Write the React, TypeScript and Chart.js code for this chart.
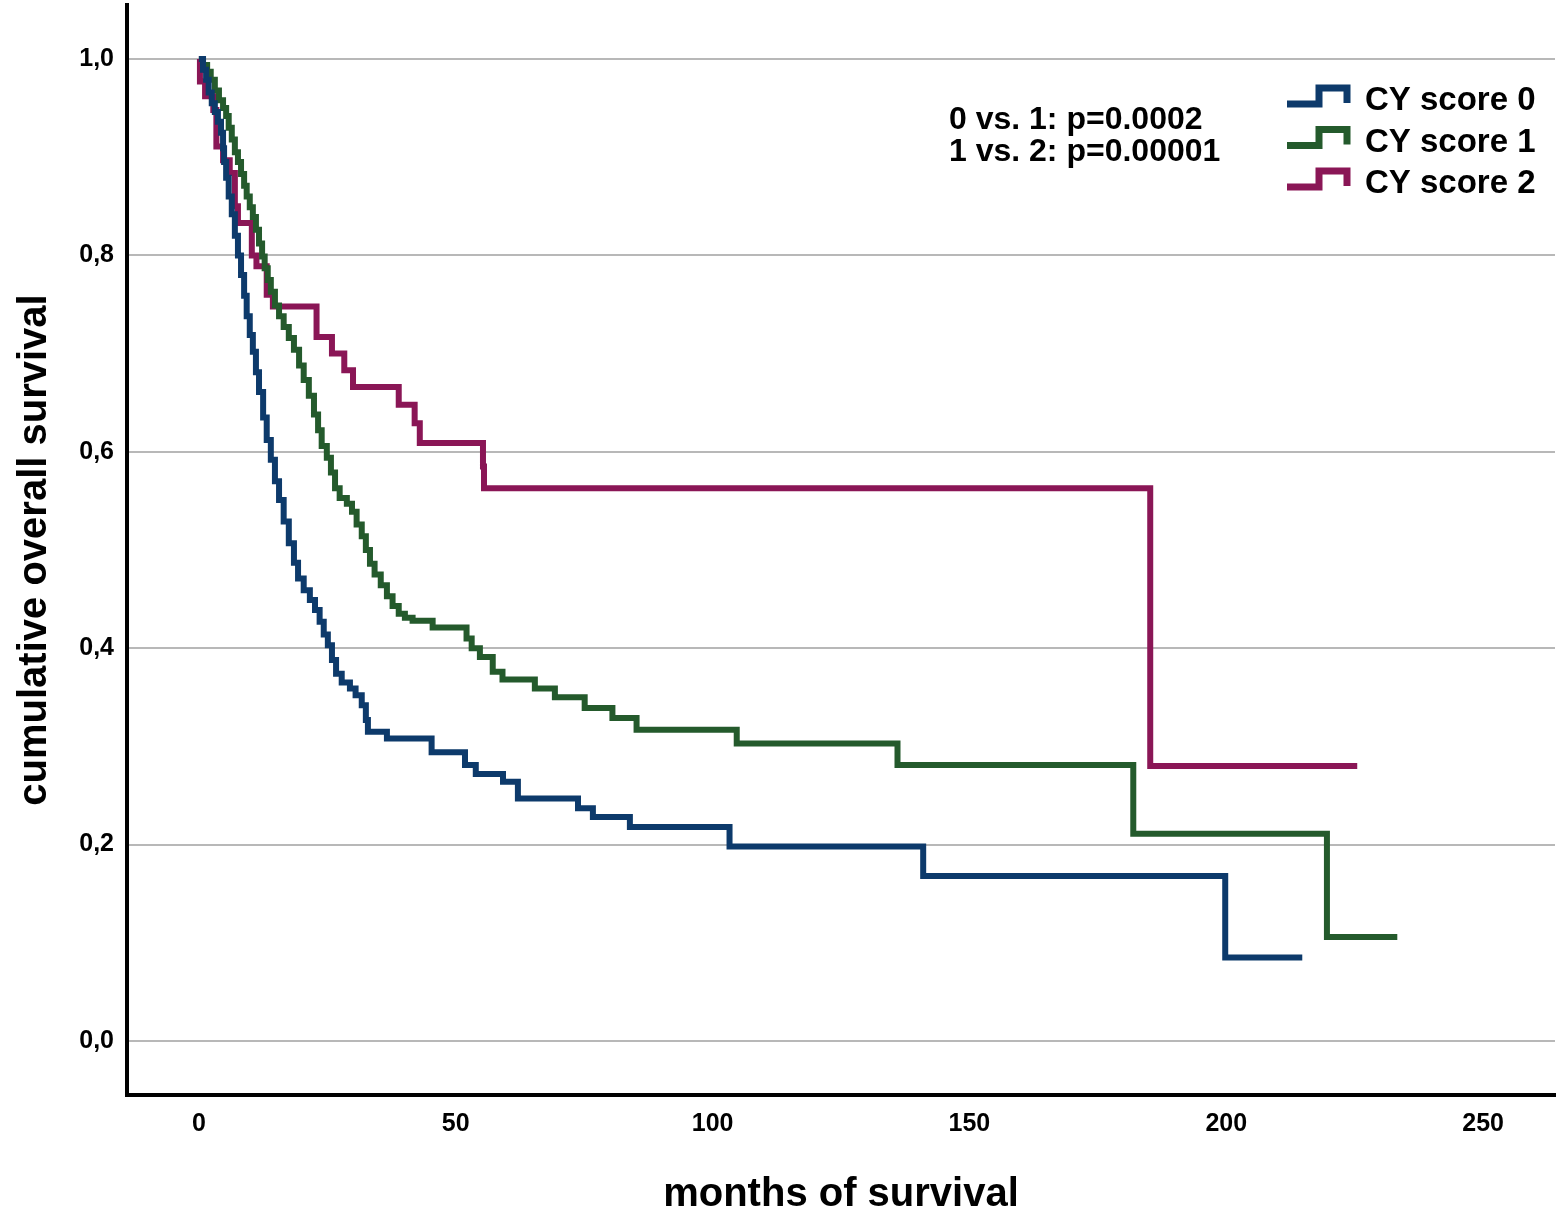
import { useEffect, useRef } from "react"
import { Chart, registerables, type Plugin } from "chart.js"

Chart.register(...registerables)

const seriesLabels = ["CY score 0", "CY score 1", "CY score 2"]
const seriesColors = ["#0d3a6b", "#245a2c", "#8a1656"]

// Kaplan-Meier curves: month of each drop, survival after it
const score0Months = [
  0, 0.8, 1.4, 1.9, 2.5, 3.1, 3.7, 4.3, 4.7, 4.9, 5.3, 5.8, 6.4, 7.0, 7.6, 8.2, 8.8, 9.3, 9.9, 10.5,
  11.1, 11.7, 12.5, 13.2, 14.0, 14.8, 15.6, 16.5, 17.5, 18.5, 19.3, 20.4, 21.6, 22.6, 23.5, 24.3,
  25.1, 25.9, 26.7, 27.8, 29.4, 30.5, 31.7, 32.5, 32.9, 36.6, 45.3, 51.8, 53.9, 59.2, 62.1, 73.8,
  76.7, 83.9, 103.3, 141.0, 199.8, 214.8,
]
const score0Survival = [
  1.0, 0.989, 0.979, 0.966, 0.955, 0.946, 0.936, 0.925, 0.909, 0.895, 0.879, 0.86, 0.842, 0.82, 0.8,
  0.78, 0.759, 0.738, 0.719, 0.702, 0.681, 0.661, 0.635, 0.612, 0.592, 0.57, 0.551, 0.529, 0.507,
  0.487, 0.471, 0.459, 0.449, 0.439, 0.427, 0.414, 0.403, 0.388, 0.374, 0.365, 0.359, 0.352, 0.342,
  0.327, 0.315, 0.308, 0.294, 0.281, 0.272, 0.264, 0.247, 0.237, 0.228, 0.218, 0.198, 0.168, 0.085,
  0.085,
]

const score1Months = [
  0, 0.8, 1.6, 2.3, 3.1, 3.9, 4.7, 5.3, 5.8, 6.4, 7.0, 7.6, 8.2, 8.8, 9.3, 9.9, 10.5, 11.1, 11.7,
  12.3, 12.8, 13.4, 14.0, 14.8, 15.6, 16.5, 17.5, 18.5, 19.5, 20.4, 21.4, 22.4, 23.2, 23.9, 24.9,
  25.7, 26.5, 27.4, 28.8, 29.8, 30.7, 31.7, 32.5, 33.3, 34.2, 35.4, 36.6, 37.7, 38.9, 40.1, 41.6,
  45.5, 52.1, 53.1, 54.7, 57.2, 59.1, 65.4, 69.3, 75.1, 80.5, 85.2, 104.7, 136.0, 181.9, 219.6,
  233.3,
]
const score1Survival = [
  1.0, 0.994, 0.987, 0.979, 0.968, 0.958, 0.95, 0.942, 0.93, 0.918, 0.905, 0.895, 0.883, 0.871, 0.86,
  0.849, 0.839, 0.826, 0.812, 0.799, 0.787, 0.775, 0.763, 0.749, 0.738, 0.727, 0.716, 0.704, 0.688,
  0.673, 0.657, 0.638, 0.622, 0.606, 0.594, 0.579, 0.563, 0.553, 0.547, 0.539, 0.526, 0.514, 0.5,
  0.486, 0.475, 0.464, 0.453, 0.443, 0.435, 0.431, 0.428, 0.421, 0.41, 0.4, 0.391, 0.376, 0.368,
  0.359, 0.35, 0.339, 0.329, 0.317, 0.303, 0.281, 0.211, 0.106, 0.106,
]

const score2Months = [
  0, 0.2, 1.2, 2.8, 3.4, 4.7, 6.0, 7.0, 7.6, 10.3, 11.2, 13.2, 14.4, 22.9, 25.9, 28.3, 30.0, 38.9,
  42.0, 43.0, 55.3, 55.5, 185.2, 225.5,
]
const score2Survival = [
  1.0, 0.977, 0.962, 0.948, 0.911, 0.897, 0.884, 0.85, 0.833, 0.8, 0.789, 0.76, 0.748, 0.717, 0.7,
  0.683, 0.666, 0.648, 0.629, 0.609, 0.585, 0.563, 0.28, 0.28,
]

const xTicks = [0, 50, 100, 150, 200, 250]
const yTicks = [0, 0.2, 0.4, 0.6, 0.8, 1.0]
const pValueLines = ["0 vs. 1: p=0.0002", "1 vs. 2: p=0.00001"]

const seriesMonths = [score0Months, score1Months, score2Months]
const seriesSurvival = [score0Survival, score1Survival, score2Survival]

const FONT = "'Liberation Sans', Arial, sans-serif"

// legend with step icons and the p-values, drawn on top of the plot
const annotations: Plugin<"line"> = {
  id: "annotations",
  afterDraw(chart) {
    const ctx = chart.ctx
    ctx.save()
    ctx.fillStyle = "#000"
    ctx.textBaseline = "middle"
    ctx.font = `bold 32px ${FONT}`
    pValueLines.forEach((line, i) => {
      ctx.fillText(line, 949, 120 + i * 32)
    })

    ctx.font = `bold 33px ${FONT}`
    seriesLabels.forEach((label, i) => {
      const cy = 100 + i * 41.5
      ctx.strokeStyle = seriesColors[i]
      ctx.lineWidth = 7
      ctx.lineJoin = "miter"
      ctx.beginPath()
      ctx.moveTo(1287, cy + 4)
      ctx.lineTo(1319, cy + 4)
      ctx.lineTo(1319, cy - 12)
      ctx.lineTo(1347, cy - 12)
      ctx.lineTo(1347, cy + 3)
      ctx.stroke()
      ctx.fillStyle = "#000"
      ctx.fillText(label, 1365, cy + 1)
    })
    ctx.restore()
  },
}

export default function App() {
  const canvasRef = useRef<HTMLCanvasElement>(null)
  const chartRef = useRef<Chart<"line"> | null>(null)

  useEffect(() => {
    document.body.style.margin = "0"
    if (!canvasRef.current) return
    if (chartRef.current) chartRef.current.destroy()

    chartRef.current = new Chart(canvasRef.current, {
      type: "line",
      data: {
        datasets: seriesLabels.map((label, i) => ({
          label,
          data: seriesMonths[i].map((m, j) => ({ x: m, y: seriesSurvival[i][j] })),
          borderColor: seriesColors[i],
          borderWidth: 6,
          stepped: true,
          pointRadius: 0,
          fill: false,
        })),
      },
      options: {
        animation: false,
        responsive: true,
        maintainAspectRatio: false,
        layout: { padding: { top: 5, right: 10, left: 0, bottom: 0 } },
        plugins: {
          legend: { display: false },
          tooltip: { enabled: false },
        },
        scales: {
          x: {
            type: "linear",
            min: -14,
            max: 264,
            afterBuildTicks: (scale) => {
              scale.ticks = xTicks.map((v) => ({ value: v }))
            },
            afterFit: (scale) => {
              scale.height = 128
              scale.paddingLeft = 0
              scale.paddingRight = 0
            },
            grid: { display: false, drawTicks: false },
            border: { display: true, color: "#000", width: 4 },
            ticks: {
              color: "#000",
              padding: 14,
              font: { family: FONT, size: 25, weight: "bold" },
            },
            title: {
              display: true,
              text: "months of survival",
              color: "#000",
              font: { family: FONT, size: 40, weight: "bold", lineHeight: 1.2 },
              padding: { top: 0, bottom: 4 },
            },
          },
          y: {
            type: "linear",
            min: -0.055,
            max: 1.055,
            afterBuildTicks: (scale) => {
              scale.ticks = yTicks.map((v) => ({ value: v }))
            },
            afterFit: (scale) => {
              scale.width = 127
              scale.paddingTop = 0
              scale.paddingBottom = 0
            },
            grid: { color: "#b8b8b8", lineWidth: 2, drawTicks: false },
            border: { display: true, color: "#000", width: 4 },
            ticks: {
              color: "#000",
              padding: 13,
              font: { family: FONT, size: 25, weight: "bold" },
              callback: (v) => Number(v).toFixed(1).replace(".", ","),
            },
            title: {
              display: true,
              text: "cumulative overall survival",
              color: "#000",
              font: { family: FONT, size: 40, weight: "bold", lineHeight: 1.2 },
              padding: { top: 11, bottom: 0 },
            },
          },
        },
      },
      plugins: [annotations],
    })

    return () => {
      if (chartRef.current) {
        chartRef.current.destroy()
        chartRef.current = null
      }
    }
  }, [])

  return (
    <div style={{ width: 1565, height: 1223, position: "relative", background: "#fff" }}>
      <canvas ref={canvasRef} />
    </div>
  )
}
